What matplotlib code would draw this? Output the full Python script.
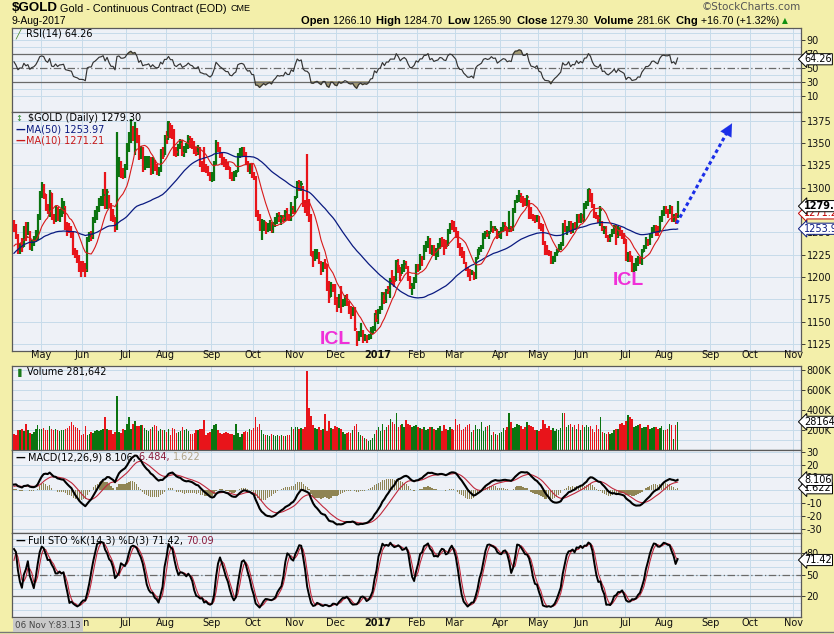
import matplotlib
matplotlib.use('Agg')
import matplotlib.pyplot as plt
from matplotlib.transforms import blended_transform_factory as blend
import numpy as np
import pandas as pd

W, H = 834, 634

# daily closes before the visible window, only used to settle MA / RSI / MACD / STO
warmup_close = [1128, 1128, 1141, 1157, 1158, 1198, 1197, 1195, 1248, 1239, 1209, 1210, 1226, 1231,
                1210, 1223, 1238, 1240, 1220, 1238,
                1230, 1241, 1258, 1270, 1264, 1264, 1257, 1272, 1249, 1236, 1232, 1262, 1265, 1255,
                1244, 1248, 1221, 1220, 1219, 1238, 1224, 1234,
                1222, 1218, 1230, 1226, 1238, 1240, 1258]

# visible bars 12-Apr-2016 .. 9-Aug-2017 (one line per month)
close = [
    1257, 1246, 1228, 1235, 1234, 1254, 1245, 1250, 1232, 1239, 1242, 1250, 1266, 1290,
    1295, 1293, 1280, 1275, 1294, 1266, 1264, 1276, 1266, 1273, 1274, 1276, 1256, 1254, 1252, 1250, 1228, 1224, 1221, 1214, 1214,
    1213, 1208, 1243, 1246, 1246, 1263, 1268, 1276, 1285, 1287, 1292, 1279, 1295, 1280, 1268, 1268, 1256, 1322, 1326, 1318, 1318, 1322,
    1341, 1356, 1366, 1360, 1366, 1356, 1334, 1344, 1323, 1327, 1328, 1332, 1320, 1330, 1322, 1318, 1320, 1341, 1335, 1357,
    1357, 1373, 1363, 1363, 1344, 1340, 1347, 1351, 1339, 1343, 1347, 1355, 1349, 1347, 1340, 1339, 1344, 1326, 1324, 1321, 1321, 1315, 1311,
    1315, 1327, 1349, 1343, 1337, 1333, 1328, 1323, 1323, 1312, 1310, 1315, 1318, 1336, 1339, 1340, 1338, 1328, 1322, 1323, 1313,
    1312, 1269, 1267, 1253, 1257, 1261, 1253, 1256, 1258, 1251, 1258, 1262, 1268, 1266, 1267, 1266, 1273, 1267, 1267, 1276, 1272,
    1288, 1305, 1301, 1304, 1281, 1275, 1274, 1267, 1224, 1221, 1224, 1226, 1216, 1207, 1214, 1214, 1187, 1178, 1190, 1189, 1173,
    1168, 1177, 1169, 1171, 1175, 1171, 1161, 1158, 1159, 1142, 1129, 1137, 1140, 1131, 1133, 1130, 1133, 1140, 1141, 1158, 1152,
    1162, 1165, 1181, 1173, 1185, 1185, 1196, 1196, 1196, 1218, 1212, 1202, 1210, 1215, 1211, 1199, 1189, 1190, 1196, 1211,
    1208, 1220, 1220, 1234, 1235, 1242, 1229, 1234, 1227, 1230, 1232, 1241, 1240, 1236, 1235, 1251, 1258, 1257, 1253,
    1249, 1234, 1226, 1226, 1216, 1210, 1203, 1203, 1205, 1199, 1220, 1227, 1230, 1234, 1246, 1249, 1247, 1249, 1256, 1253, 1254, 1245, 1249,
    1253, 1257, 1256, 1252, 1254, 1253, 1274, 1285, 1286, 1291, 1290, 1283, 1283, 1289, 1276, 1267, 1266, 1264, 1268,
    1256, 1254, 1238, 1229, 1228, 1227, 1216, 1221, 1225, 1228, 1232, 1236, 1258, 1253, 1254, 1262, 1251, 1257, 1256, 1268, 1262, 1268,
    1265, 1280, 1281, 1298, 1293, 1280, 1271, 1268, 1266, 1275, 1254, 1255, 1246, 1242, 1246, 1250, 1256, 1246, 1254, 1249, 1246, 1242,
    1220, 1225, 1223, 1212, 1213, 1214, 1219, 1218, 1228, 1234, 1241, 1241, 1245, 1254, 1255, 1252, 1250, 1264, 1273, 1275,
    1274, 1274, 1277, 1264, 1267, 1262.6, 1279.3,
]
high = [
    1264, 1259, 1248, 1238, 1244, 1257, 1262, 1261, 1252, 1241, 1246, 1253, 1270, 1296,
    1306, 1304, 1293, 1282, 1297, 1294, 1270, 1280, 1278, 1276, 1288, 1285, 1279, 1261, 1260, 1257, 1252, 1232, 1230, 1225, 1218,
    1218, 1216, 1245, 1250, 1251, 1267, 1275, 1279, 1288, 1291, 1299, 1318, 1299, 1292, 1283, 1276, 1267, 1362, 1334, 1330, 1322, 1327,
    1350, 1362, 1377, 1369, 1374, 1367, 1359, 1347, 1346, 1335, 1335, 1335, 1334, 1334, 1331, 1326, 1323, 1343, 1345, 1359,
    1363, 1375, 1372, 1370, 1366, 1345, 1349, 1355, 1353, 1347, 1350, 1359, 1358, 1356, 1352, 1345, 1348, 1346, 1330, 1346, 1327, 1324, 1317,
    1318, 1330, 1353, 1351, 1346, 1340, 1334, 1332, 1329, 1323, 1317, 1319, 1320, 1339, 1344, 1345, 1345, 1340, 1330, 1327, 1326,
    1318, 1313, 1275, 1271, 1265, 1264, 1262, 1260, 1264, 1261, 1261, 1267, 1272, 1273, 1269, 1269, 1275, 1277, 1271, 1284, 1279,
    1291, 1308, 1309, 1308, 1302, 1286, 1338, 1287, 1270, 1229, 1231, 1231, 1228, 1218, 1217, 1220, 1214, 1195, 1194, 1192, 1192,
    1178, 1181, 1190, 1175, 1180, 1181, 1173, 1167, 1166, 1166, 1140, 1139, 1148, 1141, 1136, 1135, 1136, 1144, 1145, 1160, 1163,
    1164, 1168, 1183, 1183, 1187, 1190, 1199, 1208, 1201, 1219, 1220, 1211, 1215, 1219, 1218, 1212, 1201, 1193, 1200, 1214,
    1215, 1226, 1223, 1236, 1240, 1246, 1244, 1236, 1236, 1232, 1238, 1244, 1245, 1242, 1241, 1254, 1260, 1264, 1263,
    1256, 1251, 1238, 1233, 1229, 1217, 1211, 1209, 1208, 1206, 1222, 1231, 1233, 1236, 1249, 1252, 1253, 1252, 1263, 1257, 1257, 1254, 1252,
    1256, 1261, 1262, 1256, 1274, 1257, 1277, 1286, 1292, 1297, 1294, 1291, 1288, 1292, 1286, 1278, 1270, 1269, 1269,
    1268, 1260, 1259, 1240, 1236, 1230, 1229, 1224, 1228, 1231, 1237, 1239, 1260, 1264, 1257, 1263, 1263, 1260, 1262, 1271, 1270, 1272,
    1271, 1283, 1285, 1299, 1298, 1294, 1282, 1273, 1269, 1279, 1263, 1257, 1257, 1247, 1248, 1254, 1258, 1258, 1257, 1256, 1253, 1249,
    1243, 1228, 1229, 1224, 1216, 1221, 1224, 1222, 1231, 1236, 1245, 1243, 1248, 1256, 1258, 1258, 1257, 1268, 1275, 1279,
    1280, 1276, 1281, 1279, 1270, 1272, 1284.7,
]
low = [
    1250, 1243, 1226, 1226, 1228, 1233, 1240, 1247, 1230, 1229, 1235, 1239, 1241, 1264,
    1288, 1287, 1274, 1270, 1267, 1264, 1259, 1262, 1263, 1262, 1267, 1271, 1253, 1246, 1249, 1244, 1225, 1221, 1216, 1206, 1200,
    1206, 1200, 1206, 1239, 1240, 1243, 1260, 1264, 1273, 1280, 1280, 1276, 1276, 1277, 1263, 1262, 1250, 1253, 1312, 1311, 1310, 1311,
    1320, 1340, 1350, 1352, 1337, 1350, 1331, 1332, 1318, 1320, 1322, 1322, 1314, 1315, 1319, 1314, 1313, 1317, 1332, 1337,
    1349, 1353, 1356, 1355, 1335, 1334, 1335, 1343, 1335, 1334, 1339, 1343, 1344, 1343, 1338, 1335, 1336, 1323, 1318, 1317, 1316, 1313, 1308,
    1306, 1307, 1325, 1340, 1333, 1325, 1323, 1320, 1320, 1310, 1308, 1308, 1312, 1317, 1333, 1335, 1334, 1325, 1318, 1315, 1311,
    1309, 1267, 1263, 1251, 1241, 1252, 1248, 1250, 1252, 1249, 1249, 1256, 1259, 1262, 1258, 1261, 1263, 1264, 1263, 1263, 1270,
    1272, 1288, 1296, 1296, 1278, 1272, 1268, 1262, 1223, 1211, 1218, 1220, 1214, 1202, 1205, 1209, 1184, 1171, 1178, 1183, 1169,
    1161, 1165, 1160, 1166, 1167, 1167, 1158, 1153, 1156, 1139, 1123, 1128, 1133, 1126, 1128, 1126, 1129, 1131, 1136, 1140, 1150,
    1147, 1158, 1163, 1170, 1171, 1181, 1176, 1192, 1189, 1195, 1204, 1195, 1203, 1205, 1209, 1195, 1186, 1180, 1186, 1193,
    1205, 1208, 1212, 1219, 1228, 1232, 1226, 1225, 1223, 1219, 1222, 1231, 1234, 1225, 1231, 1235, 1248, 1253, 1250,
    1244, 1232, 1224, 1221, 1214, 1207, 1200, 1195, 1202, 1197, 1198, 1220, 1225, 1228, 1231, 1243, 1245, 1243, 1250, 1249, 1251, 1242, 1244,
    1242, 1250, 1252, 1246, 1250, 1250, 1252, 1272, 1283, 1284, 1283, 1278, 1280, 1280, 1265, 1265, 1263, 1260, 1262,
    1254, 1251, 1236, 1225, 1225, 1223, 1214, 1214, 1217, 1224, 1228, 1230, 1235, 1250, 1247, 1251, 1248, 1249, 1253, 1254, 1260, 1260,
    1262, 1262, 1276, 1280, 1284, 1277, 1266, 1265, 1260, 1257, 1252, 1248, 1244, 1239, 1239, 1245, 1248, 1236, 1244, 1246, 1243, 1237,
    1218, 1217, 1217, 1205, 1204, 1207, 1212, 1214, 1213, 1228, 1231, 1235, 1236, 1244, 1250, 1246, 1246, 1252, 1262, 1268,
    1270, 1266, 1271, 1262, 1261, 1259, 1265.9,
]
volume_k = [
    156, 150, 197, 205, 207, 190, 264, 200, 170, 160, 180, 214, 254, 214,
    214, 220, 200, 205, 240, 214, 200, 210, 205, 190, 200, 197, 210, 220, 240, 281, 250, 230, 220, 200, 146,
    160, 237, 146, 163, 180, 170, 190, 197, 190, 200, 210, 332, 210, 200, 197, 160, 180, 536, 180, 175, 214, 200,
    260, 332, 210, 260, 288, 240, 240, 254, 254, 220, 200, 190, 214, 230, 247, 237, 190, 214, 205, 200,
    180, 214, 146, 220, 214, 170, 180, 190, 231, 200, 214, 190, 165, 160, 175, 197, 200, 214, 210, 298, 150, 175, 180,
    214, 247, 264, 200, 175, 165, 175, 180, 170, 165, 160, 150, 258, 175, 130, 160, 180, 190, 185, 214, 200,
    220, 332, 231, 264, 200, 160, 146, 150, 140, 160, 150, 145, 150, 140, 150, 145, 140, 150, 150, 231, 214,
    230, 231, 214, 220, 214, 230, 790, 424, 339, 250, 220, 214, 230, 200, 214, 359, 190, 288, 220, 214, 240,
    230, 220, 210, 180, 165, 170, 180, 170, 200, 240, 264, 180, 150, 140, 120, 110, 95, 100, 120, 160, 200,
    230, 190, 264, 200, 231, 247, 315, 281, 260, 366, 231, 247, 264, 230, 298, 260, 247, 231, 240, 247,
    231, 220, 214, 231, 200, 214, 231, 231, 214, 200, 220, 240, 190, 247, 214, 200, 231, 214, 200,
    315, 247, 264, 197, 214, 231, 250, 264, 180, 200, 247, 214, 210, 281, 190, 231, 240, 247, 150, 180, 160, 150, 170,
    180, 220, 200, 231, 366, 281, 220, 231, 264, 247, 240, 214, 231, 281, 250, 240, 231, 200, 200,
    190, 214, 298, 260, 220, 240, 200, 220, 190, 214, 205, 220, 366, 366, 230, 250, 264, 231, 250, 214, 264, 200,
    247, 230, 247, 231, 240, 214, 180, 247, 214, 332, 180, 170, 165, 180, 160, 170, 200, 210, 214, 264, 270, 250,
    290, 349, 330, 315, 231, 240, 247, 264, 220, 231, 231, 247, 214, 220, 231, 231, 214, 220, 240, 200,
    205, 214, 264, 250, 110, 247, 281.642,
]

exchange_holidays = ['2016-05-30', '2016-07-04', '2016-09-05', '2016-11-24', '2016-12-26',
                     '2017-01-02', '2017-01-16', '2017-02-20', '2017-04-14', '2017-05-29',
                     '2017-07-04', '2017-09-04']

# header / legend values as printed on the chart
last_ohlc = {'Open': '1266.10', 'High': '1284.70', 'Low': '1265.90', 'Close': '1279.30'}
last_vol, last_chg = '281.6K', '+16.70 (+1.32%)'
rsi_last, ma50_last, ma10_last = '64.26', '1253.97', '1271.21'
macd_last = ('8.106', '6.484', '1.622')
sto_last = ('71.42', '70.09')

# ---- calendar ----
bday = pd.offsets.CustomBusinessDay(holidays=exchange_holidays)
dates = pd.date_range('2016-04-12', '2017-11-30', freq=bday)
n = len(close)
assert len(high) == n and len(low) == n and len(volume_k) == n, (n, len(high), len(low), len(volume_k))
x = np.arange(n)

month_pos, month_lab = [], []
per = dates.to_period('M')
for i in range(1, len(dates)):
    if per[i] != per[i - 1]:
        month_pos.append(i)
        month_lab.append(str(dates[i].year) if dates[i].month == 1 else dates[i].strftime('%b'))

# ---- indicators ----
nw = len(warmup_close)
c_all = pd.Series(np.r_[warmup_close, close], dtype=float)
h_all = pd.Series(np.r_[warmup_close, high], dtype=float)
l_all = pd.Series(np.r_[warmup_close, low], dtype=float)
ma50 = c_all.rolling(50).mean().values[nw:]
ma10 = c_all.rolling(10).mean().values[nw:]
d = c_all.diff()
ag = d.clip(lower=0).ewm(alpha=1 / 14, adjust=False).mean()
al = (-d.clip(upper=0)).ewm(alpha=1 / 14, adjust=False).mean()
rsi = (100 - 100 / (1 + ag / al)).values[nw:]
macd_s = c_all.ewm(span=12, adjust=False).mean() - c_all.ewm(span=26, adjust=False).mean()
sig_s = macd_s.ewm(span=9, adjust=False).mean()
macd = macd_s.values[nw:]
sig = sig_s.values[nw:]
hist = macd - sig
fast_k = 100 * (c_all - l_all.rolling(14).min()) / (h_all.rolling(14).max() - l_all.rolling(14).min())
full_k = fast_k.rolling(3).mean()
full_d = full_k.rolling(3).mean()
sto_k = full_k.values[nw:]
sto_d = full_d.values[nw:]

close = np.array(close, dtype=float)
prev = np.r_[warmup_close[-1], close[:-1]]
bar_col = np.where(close > prev, '#0b7410', '#e8141a')

# ---- styling ----
BG = '#f3efaa'
PANEL = '#eef1f7'
GRID = '#c6dbea'
L_PX, R_PX = 12, 801
XMIN, XMAX = -1.0, 397.3

fig = plt.figure(figsize=(W / 100, H / 100), dpi=100, facecolor=BG)


def px(xp, yp):
    return xp / W, 1 - yp / H


def panel(top, bottom, ylim, light, ticks, labels):
    ax = fig.add_axes([L_PX / W, 1 - bottom / H, (R_PX - L_PX) / W, (bottom - top) / H])
    ax.set_facecolor(PANEL)
    ax.set_xlim(XMIN, XMAX)
    ax.set_ylim(*ylim)
    for s in ax.spines.values():
        s.set_color('#5a5a5a')
        s.set_linewidth(0.9)
    ax.tick_params(axis='x', bottom=False, labelbottom=False)
    ax.yaxis.tick_right()
    ax.tick_params(axis='y', direction='out', length=3, width=0.6, color='#222222',
                   labelsize=7, pad=1, labelcolor='#111111')
    ax.set_yticks(ticks)
    ax.set_yticklabels(labels)
    for m in month_pos:
        ax.axvline(m - 0.5, color=GRID, lw=0.7, zorder=0)
    for v in light:
        ax.axhline(v, color=GRID, lw=0.7, zorder=0)
    return ax


def tag(ax, yv, text, color='black', edge='black', weight='normal'):
    ax.text(1.004, yv, text, transform=blend(ax.transAxes, ax.transData), ha='left', va='center',
            fontsize=7, color=color, fontweight=weight, clip_on=False, zorder=10,
            bbox=dict(boxstyle='larrow,pad=0.06', fc='white', ec=edge, lw=0.7))


renderer = fig.canvas.get_renderer()


def run_text(xp, yp, pieces, **kw):
    for s, weight, color, size in pieces:
        t = fig.text(*px(xp, yp), s, fontweight=weight, color=color, fontsize=size,
                     ha='left', va='center', **kw)
        xp += t.get_window_extent(renderer).width
    return xp


# ---- RSI panel ----
ax_rsi = panel(28, 112, (-12.9, 107), [10, 20, 40, 60, 80, 90, 100], [90, 70, 50, 30, 10],
               ['90', '70', '50', '30', '10'])
ax_rsi.axhline(70, color='#6a6a6a', lw=0.9)
ax_rsi.axhline(30, color='#6a6a6a', lw=0.9)
ax_rsi.axhline(50, color='#6a6a6a', lw=0.9, ls=(0, (6, 2, 1, 2)))
ax_rsi.fill_between(x, rsi, 70, where=rsi > 70, color='#a39a72', interpolate=True)
ax_rsi.fill_between(x, rsi, 30, where=rsi < 30, color='#a39a72', interpolate=True)
ax_rsi.plot(x, rsi, color='#333333', lw=0.85)
tag(ax_rsi, 62.4, rsi_last)

# ---- price panel ----
ax_p = panel(112, 351, (1117.1, 1384.7), range(1125, 1400, 25), range(1125, 1400, 25),
             [str(v) for v in range(1125, 1400, 25)])
ax_p.vlines(x, low, high, colors=bar_col, lw=1.6, zorder=3)
ax_p.hlines(prev, x - 0.7, x, colors=bar_col, lw=1.1, zorder=3)
ax_p.hlines(close, x, x + 0.7, colors=bar_col, lw=1.1, zorder=3)
ax_p.plot(x, ma50, color='#0a1a80', lw=0.9, zorder=4)
ax_p.plot(x, ma10, color='#d81a1a', lw=0.8, zorder=4)
tag(ax_p, 1271.2, '1271.2', color='#c00000', edge='#c00000')
tag(ax_p, 1253.97, '1253.9', color='#0a1a80', edge='#0a1a80')
tag(ax_p, close[-1], '1279.3', weight='bold')

icl_days = ['2016-11-30', '2017-07-05']
icl_price = [1130.5, 1196]
for dd, pv in zip(icl_days, icl_price):
    ax_p.text(dates.get_loc(pd.Timestamp(dd)), pv, 'ICL', color='#f030d8', fontsize=14,
              fontweight='bold', family='Liberation Sans', ha='center', va='center', zorder=6)

arrow_from = (n - 1.5, 1260)
arrow_to = (n + 26.5, 1372)
ax_p.plot([arrow_from[0], arrow_to[0] - 1.5], [arrow_from[1], arrow_to[1] - 6], color='#1a2ee8',
          lw=2.2, ls=(0, (1.2, 1.0)), zorder=6)
ax_p.annotate('', xy=arrow_to, xytext=(arrow_to[0] - 3.5, arrow_to[1] - 14),
              arrowprops=dict(arrowstyle='-|>,head_length=0.9,head_width=0.45', color='#1a2ee8',
                              lw=0.1, shrinkA=0, shrinkB=0), zorder=6)

# ---- volume panel ----
ax_v = panel(366, 450, (0, 840), range(100, 900, 100), [200, 400, 600, 800],
             ['200K', '400K', '600K', '800K'])
ax_v.bar(x, volume_k, width=0.75, color=bar_col, zorder=3)
tag(ax_v, volume_k[-1], '281642')

# ---- MACD panel ----
ax_m = panel(450, 533, (-33.1, 31.3), range(-30, 40, 10), range(-30, 40, 10),
             [str(v) for v in range(-30, 40, 10)])
ax_m.bar(x, hist, width=0.65, color='#8f8454', zorder=2)
ax_m.plot(x, sig, color='#c0283c', lw=0.8, zorder=3)
ax_m.plot(x, macd, color='black', lw=1.5, zorder=4)
tag(ax_m, 1.622, macd_last[2])
tag(ax_m, 8.106, macd_last[0])

# ---- STO panel ----
ax_s = panel(533, 617, (-10.1, 108.7), range(0, 110, 10), [80, 50, 20], ['80', '50', '20'])
ax_s.axhline(80, color='#6a6a6a', lw=0.9)
ax_s.axhline(20, color='#6a6a6a', lw=0.9)
ax_s.axhline(50, color='#6a6a6a', lw=0.9, ls=(0, (6, 2, 1, 2)))
ax_s.plot(x, sto_d, color='#c0283c', lw=0.8)
ax_s.plot(x, sto_k, color='black', lw=1.4)
tag(ax_s, 70.5, sto_last[0])

# ---- month labels (two bands) ----
tr = blend(ax_p.transData, fig.transFigure)
for m, lab in zip(month_pos, month_lab):
    if m - 0.5 < XMIN or m > XMAX:
        continue
    for yb in (355.5, 623.5):
        ax_p.text(m - 0.5, 1 - yb / H, lab, transform=tr, ha='center', va='center', fontsize=7,
                  fontweight='bold' if lab.isdigit() else 'normal', color='#111111', clip_on=False)

# ---- header ----
xe = run_text(12, 8, [('$GOLD', 'bold', 'black', 9.6)], family='Liberation Sans')
xe = run_text(xe + 2, 8.5, [('Gold - Continuous Contract (EOD) ', 'normal', 'black', 7.8)],
              family='Liberation Sans')
fig.text(*px(xe + 1, 8.5), 'CME', fontsize=6.5, va='center', ha='left', family='Liberation Sans')
fig.text(*px(12, 21), '9-Aug-2017', fontsize=7.5, va='center', ha='left', family='Liberation Sans')
fig.text(*px(801, 7.5), '\u00a9StockCharts.com', fontsize=7.5, color='#555555', va='center',
         ha='right', family='DejaVu Sans')
pieces = []
for k, v in last_ohlc.items():
    pieces += [(k + ' ', 'bold', 'black', 8), (v + '  ', 'normal', 'black', 7.6)]
pieces += [('Volume ', 'bold', 'black', 8), (last_vol + '  ', 'normal', 'black', 7.6),
           ('Chg ', 'bold', 'black', 8), (last_chg, 'normal', 'black', 7.6)]
xe = run_text(301, 21, pieces, family='Liberation Sans')
fig.text(*px(xe + 3, 20.5), '\u25b2', fontsize=5.5, color='#109010', va='center', ha='left')

# ---- panel legends ----
fig.text(*px(15, 33.3), '\u2571', fontsize=7, color='#4a8a2a', va='center', ha='left')
fig.text(*px(26, 33.3), 'RSI(14) ' + rsi_last, fontsize=7, va='center', ha='left')
fig.text(*px(27.5, 118.3), '$GOLD (Daily) ' + f'{close[-1]:.2f}', fontsize=7, va='center', ha='left')
fig.text(*px(15, 118.3), '\u2195', fontsize=6, color='#2a8a2a', va='center', ha='left')
fig.text(*px(15, 129.3), '\u2014', fontsize=7, color='#0a1a80', fontweight='bold', va='center')
fig.text(*px(26, 129.3), 'MA(50) ' + ma50_last, fontsize=7, color='#0a1a80', va='center', ha='left')
fig.text(*px(15, 140.7), '\u2014', fontsize=7, color='#c81a1a', fontweight='bold', va='center')
fig.text(*px(26, 140.7), 'MA(10) ' + ma10_last, fontsize=7, color='#c81a1a', va='center', ha='left')
fig.text(*px(15, 372.3), '\u2590', fontsize=6, color='#1a7a1a', va='center', ha='left')
fig.text(*px(27.3, 372.3), 'Volume 281,642', fontsize=7, va='center', ha='left')
fig.text(*px(15, 457.3), '\u2014', fontsize=7, fontweight='bold', va='center')
run_text(28, 457.3, [('MACD(12,26,9) ' + macd_last[0] + ', ', 'normal', 'black', 7),
                     (macd_last[1] + ', ', 'normal', '#8a1a3a', 7),
                     (macd_last[2], 'normal', '#b0a488', 7)])
fig.text(*px(15, 540.7), '\u2014', fontsize=7, fontweight='bold', va='center')
run_text(28, 540.7, [('Full STO %K(14,3) %D(3) ' + sto_last[0] + ', ', 'normal', 'black', 7),
                     (sto_last[1], 'normal', '#8a1a3a', 7)])

# bottom-left crosshair readout and frame line
fig.text(*px(15, 625), '06 Nov Y:83.13', fontsize=6.3, color='#444444', va='center', ha='left',
         bbox=dict(boxstyle='square,pad=0.25', fc='#c9c9c9', ec='none'))
fig.add_artist(plt.Line2D([0, 1], [1 - 632 / H] * 2, color='#777777', lw=1.0))

fig.savefig('out.png', dpi=100, facecolor=BG)
